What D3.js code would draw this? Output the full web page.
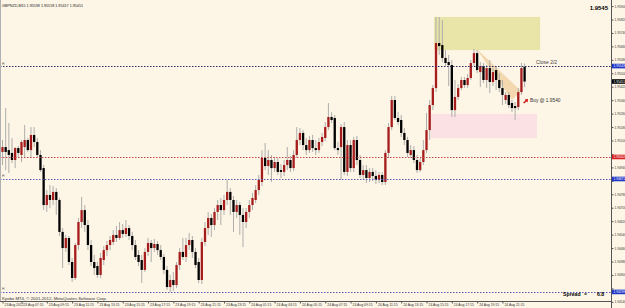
<!DOCTYPE html>
<html>
<head>
<meta charset="utf-8">
<script src="https://cdn.jsdelivr.net/npm/d3@7"></script>
<style>
  body { margin: 0; background: #fdf5e6; }
  svg { display: block; font-family: "Liberation Sans", Arial, sans-serif; }
</style>
</head>
<body>
<div id="chart"></div>
<script>
// GBPNZD M15, bar 0 = 23 Aug 2012 05:30 ... last bar = 24 Aug 22:45
// each bar is [open, high, low, close]
var bars = [
  [1.95032,1.95103,1.94954,1.95061],[1.95061,1.95293,1.94924,1.95032],[1.95043,1.95204,1.94907,1.95014],
  [1.95026,1.95115,1.94966,1.94984],[1.94984,1.95061,1.94936,1.95055],[1.95055,1.95067,1.95002,1.95026],
  [1.95014,1.95103,1.94972,1.95091],[1.95061,1.95192,1.95002,1.95103],[1.95103,1.95115,1.95032,1.95043],
  [1.95043,1.95180,1.94996,1.95133],[1.95133,1.95180,1.95061,1.95091],[1.95091,1.95115,1.94996,1.95014],
  [1.95014,1.95043,1.94913,1.94924],[1.94936,1.94954,1.94686,1.94716],[1.94716,1.94805,1.94675,1.94776],
  [1.94776,1.94835,1.94698,1.94746],[1.94746,1.94829,1.94716,1.94794],[1.94794,1.94817,1.94657,1.94746],
  [1.94746,1.94758,1.94532,1.94556],[1.94556,1.94579,1.94341,1.94460],[1.94460,1.94538,1.94437,1.94520],
  [1.94520,1.94532,1.94359,1.94377],[1.94377,1.94401,1.94258,1.94282],[1.94282,1.94490,1.94270,1.94478],
  [1.94478,1.94639,1.94448,1.94615],[1.94615,1.94764,1.94579,1.94686],[1.94686,1.94716,1.94556,1.94597],
  [1.94597,1.94627,1.94448,1.94478],[1.94478,1.94508,1.94353,1.94377],[1.94377,1.94419,1.94300,1.94341],
  [1.94353,1.94377,1.94282,1.94300],[1.94300,1.94431,1.94282,1.94401],[1.94389,1.94472,1.94359,1.94448],
  [1.94448,1.94502,1.94413,1.94478],[1.94478,1.94532,1.94448,1.94508],[1.94496,1.94567,1.94478,1.94538],
  [1.94538,1.94591,1.94496,1.94520],[1.94520,1.94615,1.94508,1.94567],[1.94567,1.94603,1.94520,1.94544],
  [1.94544,1.94627,1.94526,1.94579],[1.94579,1.94597,1.94508,1.94532],[1.94532,1.94556,1.94448,1.94478],
  [1.94478,1.94508,1.94389,1.94407],[1.94419,1.94448,1.94353,1.94377],[1.94389,1.94419,1.94252,1.94330],
  [1.94330,1.94460,1.94318,1.94437],[1.94437,1.94520,1.94413,1.94490],[1.94490,1.94508,1.94377,1.94460],
  [1.94460,1.94514,1.94437,1.94484],[1.94484,1.94502,1.94419,1.94448],[1.94448,1.94478,1.94389,1.94407],
  [1.94407,1.94425,1.94306,1.94330],[1.94330,1.94353,1.94211,1.94228],[1.94228,1.94300,1.94199,1.94270],
  [1.94270,1.94318,1.94205,1.94240],[1.94240,1.94377,1.94222,1.94359],[1.94359,1.94460,1.94330,1.94437],
  [1.94437,1.94520,1.94389,1.94407],[1.94407,1.94520,1.94377,1.94478],[1.94478,1.94550,1.94448,1.94508],
  [1.94508,1.94532,1.94401,1.94437],[1.94437,1.94460,1.94341,1.94359],[1.94377,1.94401,1.94252,1.94270],
  [1.94270,1.94520,1.94246,1.94496],[1.94496,1.94615,1.94472,1.94579],[1.94579,1.94675,1.94538,1.94639],
  [1.94639,1.94663,1.94526,1.94597],[1.94597,1.94698,1.94567,1.94675],[1.94675,1.94746,1.94627,1.94716],
  [1.94716,1.94758,1.94597,1.94686],[1.94686,1.94776,1.94657,1.94746],[1.94746,1.94865,1.94716,1.94794],
  [1.94794,1.94817,1.94657,1.94746],[1.94746,1.94770,1.94556,1.94675],[1.94675,1.94746,1.94639,1.94716],
  [1.94716,1.94734,1.94538,1.94657],[1.94657,1.94698,1.94466,1.94615],[1.94615,1.94698,1.94579,1.94675],
  [1.94675,1.94746,1.94639,1.94716],[1.94716,1.94788,1.94686,1.94758],[1.94746,1.94835,1.94728,1.94805],
  [1.94805,1.94895,1.94776,1.94865],[1.94853,1.95043,1.94829,1.94996],[1.94996,1.95085,1.94924,1.94948],
  [1.94948,1.95043,1.94895,1.94984],[1.94984,1.95014,1.94853,1.94936],[1.94936,1.95002,1.94913,1.94972],
  [1.94972,1.94996,1.94895,1.94913],[1.94924,1.94960,1.94877,1.94913],[1.94913,1.94984,1.94889,1.94954],
  [1.94954,1.95061,1.94924,1.94984],[1.94984,1.95008,1.94913,1.94936],[1.94936,1.95043,1.94918,1.95014],
  [1.95014,1.95180,1.94996,1.95103],[1.95103,1.95174,1.95073,1.95145],[1.95145,1.95162,1.95043,1.95073],
  [1.95073,1.95115,1.95014,1.95043],[1.95043,1.95127,1.95026,1.95103],[1.95103,1.95133,1.95032,1.95055],
  [1.95055,1.95103,1.95014,1.95043],[1.95043,1.95115,1.95026,1.95091],[1.95091,1.95145,1.95067,1.95121],
  [1.95115,1.95210,1.95097,1.95180],[1.95180,1.95323,1.95162,1.95240],[1.95240,1.95269,1.95204,1.95222],
  [1.95234,1.95252,1.95043,1.95055],[1.95055,1.95091,1.95014,1.95043],[1.95061,1.95198,1.94865,1.95180],
  [1.95180,1.95210,1.94895,1.94913],[1.94913,1.95103,1.94889,1.95073],[1.95073,1.95103,1.94913,1.94936],
  [1.94936,1.95121,1.94913,1.95103],[1.95103,1.95127,1.94954,1.94984],[1.94984,1.95014,1.94877,1.94895],
  [1.94895,1.94954,1.94865,1.94924],[1.94924,1.94954,1.94847,1.94877],[1.94877,1.94936,1.94853,1.94913],
  [1.94913,1.94936,1.94859,1.94889],[1.94889,1.94924,1.94841,1.94865],[1.94865,1.94913,1.94847,1.94895],
  [1.94895,1.94913,1.94835,1.94853],[1.94853,1.95043,1.94835,1.95026],[1.95026,1.95204,1.94996,1.95180],
  [1.95180,1.95365,1.95162,1.95341],[1.95341,1.95365,1.95222,1.95234],[1.95234,1.95269,1.95192,1.95210],
  [1.95222,1.95252,1.95121,1.95145],[1.95145,1.95174,1.95073,1.95103],[1.95103,1.95121,1.95002,1.95026],
  [1.95014,1.95073,1.94996,1.95043],[1.95043,1.95067,1.94966,1.94984],[1.94984,1.95014,1.94907,1.94924],
  [1.94924,1.94996,1.94913,1.94972],[1.94972,1.95103,1.94954,1.95043],[1.95043,1.95264,1.95026,1.95162],
  [1.95162,1.95341,1.95103,1.95311],[1.95311,1.95430,1.95281,1.95412],[1.95412,1.95835,1.95388,1.95680],
  [1.95680,1.95835,1.95609,1.95662],[1.95668,1.95817,1.95567,1.95591],[1.95591,1.95638,1.95543,1.95561],
  [1.95567,1.95609,1.95424,1.95549],[1.95549,1.95579,1.95240,1.95281],[1.95281,1.95460,1.95240,1.95359],
  [1.95359,1.95436,1.95341,1.95412],[1.95412,1.95478,1.95400,1.95460],[1.95460,1.95478,1.95412,1.95430],
  [1.95430,1.95496,1.95412,1.95472],[1.95472,1.95579,1.95460,1.95561],[1.95561,1.95644,1.95543,1.95620],
  [1.95620,1.95638,1.95501,1.95519],[1.95507,1.95567,1.95418,1.95543],[1.95543,1.95561,1.95442,1.95460],
  [1.95460,1.95549,1.95412,1.95531],[1.95531,1.95579,1.95382,1.95448],[1.95448,1.95531,1.95424,1.95507],
  [1.95519,1.95543,1.95400,1.95460],[1.95460,1.95501,1.95388,1.95412],[1.95412,1.95460,1.95311,1.95371],
  [1.95341,1.95388,1.95317,1.95371],[1.95371,1.95388,1.95293,1.95311],[1.95323,1.95341,1.95269,1.95293],
  [1.95305,1.95329,1.95222,1.95293],[1.95299,1.95412,1.95281,1.95388],[1.95388,1.95561,1.95371,1.95531],
  [1.95538,1.95558,1.95417,1.95451]
];

var priceTicks = [1.95900,1.95820,1.95740,1.95660,1.95580,1.95500,1.95420,1.95340,1.95260,1.95180,
  1.95100,1.95020,1.94940,1.94860,1.94780,1.94700,1.94620,1.94540,1.94460,1.94380,1.94300,1.94220,1.94140];

var timeLabelBars = [0,6,14,22,30,38,46,54,62,70,78,86,94,102,110,118,126,134,142,150,158];
var timeLabels = ["23 Aug 2012","23 Aug 07:15","23 Aug 09:15","23 Aug 11:15","23 Aug 13:15","23 Aug 15:15",
  "23 Aug 17:15","23 Aug 19:15","23 Aug 21:15","23 Aug 23:15","24 Aug 01:15","24 Aug 03:15","24 Aug 05:15",
  "24 Aug 07:15","24 Aug 09:15","24 Aug 11:15","24 Aug 13:15","24 Aug 15:15","24 Aug 17:15","24 Aug 19:15",
  "24 Aug 21:15"];

// horizontal line objects
var levelPrices = [1.95543, 1.95002, 1.94871, 1.94199];
var levelColors = ["#2c2c66", "#c44a4a", "#5a5ab8", "#5a5ab8"];
var levelLabelColors = ["#1f35c8", "#d92020", "#1f35c8", "#1f35c8"];

// rectangle objects: [fromBar, toBar, topPrice, bottomPrice]
var zones = [[136.4, 169.9, 1.95835, 1.95638], [135.4, 168.9, 1.95258, 1.95115]];
var zoneColors = ["#e9e5a9", "#fbe1e4"];

// triangle object: [bar, price]
var triangle = [[149.6, 1.95650], [163.9, 1.95394], [161.0, 1.95341]];

var symbol = "GBPNZD,M15";
var bidPrice = 1.95451;
var buyMark = [165.3, 1.95335];
var spread = "6.8";

var svgWidth = 625, svgHeight = 308;
var plotRight = 611, plotBottom = 301;

var x = d3.scaleLinear().domain([0, bars.length - 1]).range([2.5, 524.6]);
var y = d3.scaleLinear().domain([1.94145, 1.95936]).range([plotBottom, 0]);

var svg = d3.select("#chart").append("svg")
  .attr("width", svgWidth)
  .attr("height", svgHeight);

svg.append("rect").attr("width", svgWidth).attr("height", svgHeight).attr("fill", "#fdf5e6");

svg.append("clipPath").attr("id", "plotclip")
  .append("rect").attr("x", 0).attr("y", 0).attr("width", plotRight).attr("height", plotBottom);

var plot = svg.append("g").attr("clip-path", "url(#plotclip)");

// background objects
plot.selectAll("rect.zone")
  .data(zones)
  .enter()
  .append("rect")
  .attr("x", d => x(d[0]))
  .attr("y", d => y(d[2]))
  .attr("width", d => x(d[1]) - x(d[0]))
  .attr("height", d => y(d[3]) - y(d[2]))
  .attr("fill", (d, i) => zoneColors[i]);

plot.append("path")
  .attr("d", d3.line().x(d => x(d[0])).y(d => y(d[1]))(triangle) + "Z")
  .attr("fill", "#f4d9b0");

// candles
var candle = plot.selectAll("g.candle")
  .data(bars)
  .enter()
  .append("g");

candle.append("line")
  .attr("x1", (d, i) => x(i))
  .attr("x2", (d, i) => x(i))
  .attr("y1", d => y(d[1]))
  .attr("y2", d => y(d[2]))
  .attr("stroke", "#a6a6a6")
  .attr("stroke-width", 0.9);

candle.append("rect")
  .attr("x", (d, i) => x(i) - 1.15)
  .attr("width", 2.3)
  .attr("y", d => y(Math.max(d[0], d[3])))
  .attr("height", d => Math.max(0.8, Math.abs(y(d[0]) - y(d[3]))))
  .attr("fill", d => d[3] >= d[0] ? "#a61c1c" : "#000000");

// horizontal lines
plot.selectAll("line.level")
  .data(levelPrices)
  .enter()
  .append("line")
  .attr("x1", 0)
  .attr("x2", plotRight)
  .attr("y1", d => Math.round(y(d)) + 0.5)
  .attr("y2", d => Math.round(y(d)) + 0.5)
  .attr("stroke", (d, i) => levelColors[i])
  .attr("stroke-width", 1)
  .attr("stroke-dasharray", "1.5,1.5");

plot.selectAll("text.hl")
  .data([levelPrices[0], levelPrices[2], levelPrices[3]])
  .enter()
  .append("text")
  .attr("x", 2)
  .attr("y", d => y(d) - 1.5)
  .attr("font-size", 3.4)
  .attr("fill", "#555")
  .text("H");

// text objects
plot.append("text")
  .attr("x", x(168.6))
  .attr("y", y(levelPrices[0]) - 2.5)
  .attr("font-size", 5)
  .attr("fill", "#444")
  .text("Close 2/2");

plot.append("path")
  .attr("transform", `translate(${x(buyMark[0])},${y(buyMark[1])})`)
  .attr("d", "M-2.5,1.5 L0,-0.5 L-1,-1.5 L2.5,-2 L2,1.5 L1,0.5 L-1.5,2.5 Z")
  .attr("fill", "#d01515");

plot.append("text")
  .attr("x", x(buyMark[0]) + 4.5)
  .attr("y", y(buyMark[1]) + 0.5)
  .attr("font-size", 4.8)
  .attr("fill", "#333")
  .text("Buy @ 1.9540");

plot.append("text")
  .attr("x", 2)
  .attr("y", 6.5)
  .attr("font-size", 3.7)
  .attr("fill", "#222")
  .text(symbol + " " + bars[bars.length - 1].map(d3.format(".5f")).join(" "));

plot.append("text")
  .attr("x", 608)
  .attr("y", 10)
  .attr("text-anchor", "end")
  .attr("font-size", 6)
  .attr("font-weight", "bold")
  .attr("fill", "#000")
  .text(d3.format(".4f")(Math.floor(bidPrice * 10000) / 10000));

plot.append("text")
  .attr("x", 2)
  .attr("y", 300)
  .attr("font-size", 4.3)
  .attr("fill", "#333")
  .text("Kyobo MT4, \u00a9 2001-2012, MetaQuotes Software Corp.");

var spreadG = plot.append("g").attr("font-size", 5.2).attr("font-weight", "bold").attr("fill", "#000");
spreadG.append("text").attr("x", 563).attr("y", 295.5).text("Spread");
spreadG.append("text").attr("x", 584).attr("y", 295.5).text("=");
spreadG.append("text").attr("x", 597).attr("y", 295.5).text(spread);

// frame
svg.append("line").attr("x1", 0.5).attr("x2", 0.5).attr("y1", 0).attr("y2", plotBottom)
  .attr("stroke", "#b0b0b0");

// highlighted price labels on the axis
var axisTags = levelPrices.concat([bidPrice]);
var axisTagColors = levelLabelColors.concat(["#000000"]);

// price axis; tick labels hidden where a highlighted label covers them
var yAxis = d3.axisRight(y)
  .tickValues(priceTicks)
  .tickFormat(d3.format(".5f"))
  .tickSize(2)
  .tickSizeOuter(0)
  .tickPadding(1);

var yAxisG = svg.append("g")
  .attr("transform", `translate(${plotRight + 0.5},0)`)
  .call(yAxis);
yAxisG.select(".domain").attr("d", `M0,0V${svgHeight}`).attr("stroke", "#555");
yAxisG.selectAll(".tick line").attr("stroke", "#555");
yAxisG.selectAll("text")
  .attr("font-size", 3.2)
  .attr("fill", "#333")
  .attr("font-family", "Liberation Sans, Arial, sans-serif")
  .style("display", d => axisTags.some(t => Math.abs(y(t) - y(d)) < 4.2) ? "none" : null);

var tags = svg.selectAll("g.tag")
  .data(axisTags)
  .enter()
  .append("g")
  .attr("transform", d => `translate(${plotRight + 1},${y(d)})`);
tags.append("rect")
  .attr("x", 0)
  .attr("y", -2.3)
  .attr("width", 14)
  .attr("height", 4.6)
  .attr("fill", (d, i) => axisTagColors[i]);
tags.append("text")
  .attr("x", 1.5)
  .attr("dy", "0.35em")
  .attr("font-size", 3.2)
  .attr("fill", "#fff")
  .text(d => d3.format(".5f")(d));

// time axis
var xAxis = d3.axisBottom(x)
  .tickValues(timeLabelBars)
  .tickFormat((d, i) => timeLabels[i])
  .tickSize(2)
  .tickSizeOuter(0);

var xAxisG = svg.append("g")
  .attr("transform", `translate(0,${plotBottom + 0.5})`)
  .call(xAxis);
xAxisG.select(".domain").attr("d", `M0,0H${plotRight}`).attr("stroke", "#555");
xAxisG.selectAll(".tick line").attr("stroke", "#555");
xAxisG.selectAll("text")
  .attr("text-anchor", "start")
  .attr("x", 1.5)
  .attr("y", 2.2)
  .attr("dy", "0.71em")
  .attr("font-size", 3.4)
  .attr("fill", "#333")
  .attr("font-family", "Liberation Sans, Arial, sans-serif");
</script>
</body>
</html>
